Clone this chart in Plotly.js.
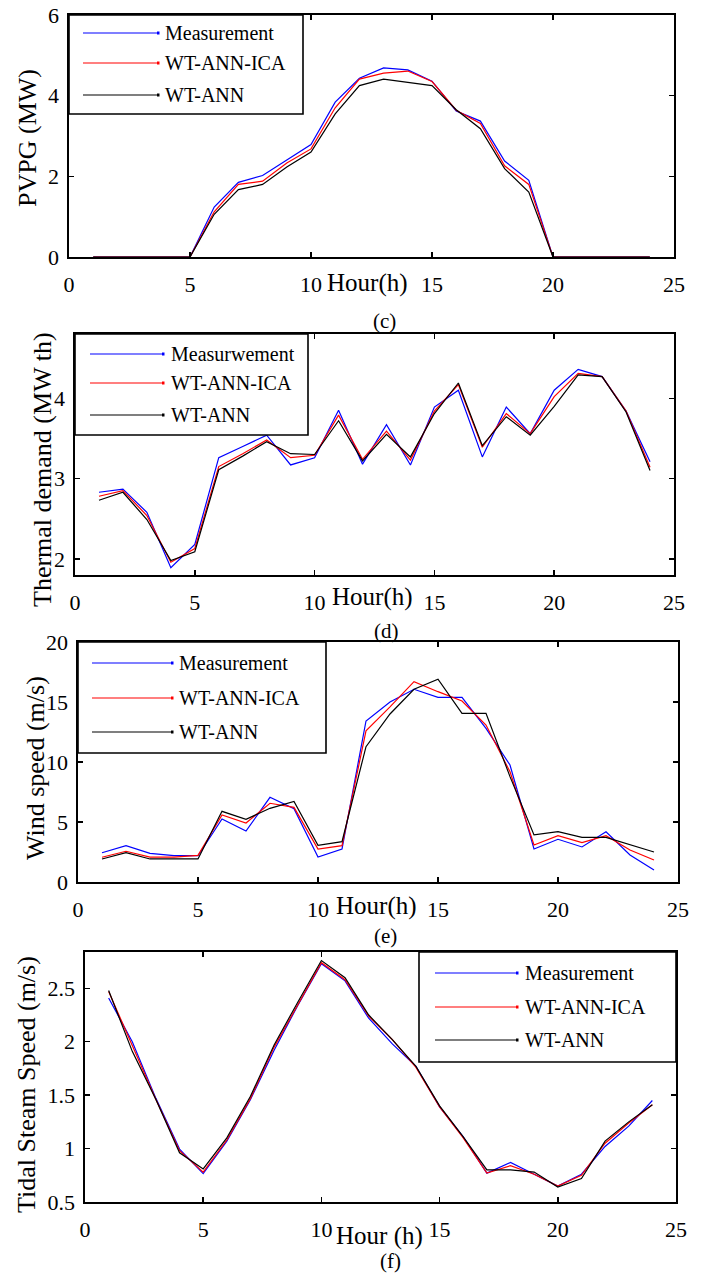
<!DOCTYPE html>
<html><head><meta charset="utf-8">
<script src="https://cdn.plot.ly/plotly-3.0.1.min.js"></script>
<style>html,body{margin:0;padding:0;background:#fff}#chart{width:706px;height:1277px}</style>
</head><body><div id="chart"></div>
<script>
// ---------- data ----------
const hours = [1,2,3,4,5,6,7,8,9,10,11,12,13,14,15,16,17,18,19,20,21,22,23,24];
const seriesNames = ['Measurement', 'WT-ANN-ICA', 'WT-ANN'];
const seriesNamesD = ['Measurwement', 'WT-ANN-ICA', 'WT-ANN'];
const seriesColors = ['#0000ff', '#ff0000', '#000000'];

const pvMeasurement = [0,0,0,0,0,1.24,1.85,2.02,2.41,2.79,3.84,4.43,4.69,4.64,4.36,3.62,3.37,2.38,1.90,0,0,0,0,0];
const pvIca         = [0,0,0,0,0,1.12,1.80,1.88,2.33,2.68,3.70,4.41,4.56,4.61,4.35,3.64,3.31,2.26,1.80,0,0,0,0,0];
const pvAnn         = [0,0,0,0,0,1.06,1.67,1.80,2.23,2.60,3.55,4.25,4.41,4.33,4.25,3.65,3.18,2.19,1.61,0,0,0,0,0];

const thermalMeasurement = [2.83,2.87,2.58,1.89,2.18,3.26,3.40,3.54,3.17,3.26,3.85,3.18,3.67,3.17,3.89,4.10,3.27,3.89,3.56,4.10,4.36,4.27,3.84,3.21];
const thermalIca         = [2.78,2.85,2.54,1.96,2.13,3.15,3.31,3.48,3.26,3.29,3.79,3.24,3.59,3.23,3.84,4.17,3.39,3.81,3.56,4.02,4.31,4.27,3.84,3.14];
const thermalAnn         = [2.73,2.83,2.49,1.98,2.09,3.11,3.28,3.46,3.31,3.30,3.72,3.22,3.55,3.27,3.81,4.19,3.41,3.77,3.54,3.90,4.29,4.27,3.83,3.10];

const windMeasurement = [2.44,3.03,2.39,2.19,2.19,5.25,4.25,7.06,6.11,2.08,2.75,13.42,15.0,16.06,15.39,15.39,12.8,9.75,2.75,3.56,2.92,4.19,2.25,1.0];
const windIca         = [2.06,2.56,2.08,2.08,2.22,5.58,4.92,6.56,6.22,2.75,3.03,12.6,14.6,16.7,15.86,15.08,13.08,9.19,3.08,3.86,3.28,3.86,2.67,1.83];
const windAnn         = [1.92,2.44,1.92,1.92,1.92,5.89,5.22,6.14,6.72,3.06,3.36,11.28,14.0,16.06,16.9,14.06,14.06,8.78,3.92,4.19,3.72,3.72,3.08,2.5];

const tidalMeasurement = [2.41,2.00,1.47,0.995,0.765,1.07,1.46,1.92,2.34,2.73,2.57,2.22,1.98,1.77,1.39,1.11,0.77,0.87,0.76,0.65,0.76,1.02,1.21,1.45];
const tidalIca         = [2.47,1.96,1.46,0.98,0.78,1.08,1.47,1.95,2.35,2.74,2.58,2.24,2.02,1.76,1.39,1.10,0.77,0.84,0.76,0.65,0.75,1.05,1.24,1.41];
const tidalAnn         = [2.48,1.91,1.46,0.96,0.81,1.10,1.49,1.97,2.37,2.76,2.60,2.25,2.02,1.77,1.40,1.11,0.80,0.80,0.78,0.64,0.72,1.07,1.25,1.41];

const xTicks = [0,5,10,15,20,25];
const yTicksC = [0,2,4,6];
const yTicksD = [2,3,4];
const yTicksE = [0,5,10,15,20];
const yTicksF = [0.5,1,1.5,2,2.5];
const yTickTextF = ['0.5','1','1.5','2','2.5'];

const yTitles = ['PVPG (MW)', 'Thermal demand (MW th)', 'Wind speed (m/s)', 'Tidal Steam Speed (m/s)'];
const xTitles = ['Hour(h)', 'Hour(h)', 'Hour(h)', 'Hour (h)'];
const captions = ['(c)', '(d)', '(e)', '(f)'];

// ---------- layout helpers ----------
const W = 706, H = 1277;
const px = v => v / W;
const py = v => 1 - v / H;
const FONT = '"Liberation Serif", "Times New Roman", serif';

const panels = [
  {sets:[pvMeasurement,pvIca,pvAnn], names:seriesNames, box:[69,15,674,257], yr:[0,6], yt:yTicksC, ytt:null,
   ytitle:[27,138], xtitle:[367,283], cap:[384,321],
   leg:{box:[69,15,303,114], l0:83, l1:158, tx:163, rows:[33,63,95]}},
  {sets:[thermalMeasurement,thermalIca,thermalAnn], names:seriesNamesD, box:[75,334,674,575], yr:[1.8,4.8], yt:yTicksD, ytt:null,
   ytitle:[42,470], xtitle:[372,597], cap:[386,631],
   leg:{box:[75,334,308,435], l0:90, l1:163, tx:169, rows:[354,383,415]}},
  {sets:[windMeasurement,windIca,windAnn], names:seriesNames, box:[78,642,678,882], yr:[0,20], yt:yTicksE, ytt:null,
   ytitle:[35,768], xtitle:[376,906], cap:[385,936],
   leg:{box:[78,642,326,753], l0:92, l1:172, tx:177, rows:[663,698,732]}},
  {sets:[tidalMeasurement,tidalIca,tidalAnn], names:seriesNames, box:[85,952,676,1202], yr:[0.5,2.84], yt:yTicksF, ytt:yTickTextF,
   ytitle:[26,1085], xtitle:[380,1236], cap:[390,1261],
   leg:{box:[419,952,676,1062], l0:435, l1:517, tx:523, rows:[973,1007,1040]}}
];

const traces = [];
const layout = {
  width: W, height: H, autosize: false,
  margin: {l:0, r:0, t:0, b:0, pad:0},
  paper_bgcolor: '#fff', plot_bgcolor: '#fff',
  showlegend: false,
  font: {family: FONT, color: '#000', size: 22},
  annotations: [], shapes: []
};

panels.forEach((p, i) => {
  const n = i === 0 ? '' : String(i + 1);
  const [x0, y0, x1, y1] = p.box;
  const axCommon = {
    showline: true, linecolor: '#000', linewidth: 1.6, mirror: 'ticks',
    ticks: 'inside', ticklen: 5, tickwidth: 1.5, tickcolor: '#000',
    showgrid: false, zeroline: false, fixedrange: true,
    tickfont: {family: FONT, size: 22, color: '#000'}
  };
  layout['xaxis' + n] = Object.assign({}, axCommon, {
    domain: [px(x0), px(x1)], range: [0, 25], tickmode: 'array', tickvals: xTicks,
    anchor: 'y' + n, ticklabelstandoff: 7
  });
  const ya = Object.assign({}, axCommon, {
    domain: [py(y1), py(y0)], range: p.yr, tickmode: 'array', tickvals: p.yt,
    anchor: 'x' + n, ticklabelstandoff: 4
  });
  if (p.ytt) ya.ticktext = p.ytt;
  layout['yaxis' + n] = ya;

  p.sets.forEach((vals, k) => {
    traces.push({
      type: 'scatter', mode: 'lines', x: hours, y: vals, name: p.names[k],
      line: {color: seriesColors[k], width: 1.2},
      xaxis: 'x' + n, yaxis: 'y' + n, hoverinfo: 'skip'
    });
  });

  // y-axis title
  layout.annotations.push({
    xref: 'paper', yref: 'paper', x: px(p.ytitle[0]), y: py(p.ytitle[1]),
    text: yTitles[i], textangle: -90, showarrow: false,
    xanchor: 'center', yanchor: 'middle',
    font: {family: FONT, size: 26, color: '#000'}
  });
  // x-axis title (sits among tick labels)
  layout.annotations.push({
    xref: 'paper', yref: 'paper', x: px(p.xtitle[0]), y: py(p.xtitle[1]),
    text: xTitles[i], showarrow: false, xanchor: 'center', yanchor: 'middle',
    font: {family: FONT, size: 25, color: '#000'}
  });
  // caption
  layout.annotations.push({
    xref: 'paper', yref: 'paper', x: px(p.cap[0]), y: py(p.cap[1]),
    text: captions[i], showarrow: false, xanchor: 'center', yanchor: 'middle',
    borderpad: 0,
    font: {family: FONT, size: 21, color: '#000'}
  });

  // legend box
  const L = p.leg;
  layout.shapes.push({
    type: 'rect', xref: 'paper', yref: 'paper',
    x0: px(L.box[0]), x1: px(L.box[2]), y0: py(L.box[3]), y1: py(L.box[1]),
    line: {color: '#000', width: 1.6}, fillcolor: '#fff', layer: 'above'
  });
  p.names.forEach((nm, k) => {
    const ry = L.rows[k];
    layout.shapes.push({
      type: 'line', xref: 'paper', yref: 'paper',
      x0: px(L.l0), x1: px(L.l1), y0: py(ry), y1: py(ry),
      line: {color: seriesColors[k], width: 1.2}, layer: 'above'
    });
    layout.shapes.push({
      type: 'rect', xref: 'paper', yref: 'paper',
      x0: px(L.l1 - 1), x1: px(L.l1 + 1.5), y0: py(ry + 1.5), y1: py(ry - 1.5),
      line: {width: 0}, fillcolor: seriesColors[k], layer: 'above'
    });
    layout.annotations.push({
      xref: 'paper', yref: 'paper', x: px(L.tx), y: py(ry),
      text: nm, showarrow: false, xanchor: 'left', yanchor: 'middle',
      font: {family: FONT, size: 20, color: '#000'}
    });
  });
});

Plotly.newPlot('chart', traces, layout, {staticPlot: true, displayModeBar: false});
</script>
</body></html>
